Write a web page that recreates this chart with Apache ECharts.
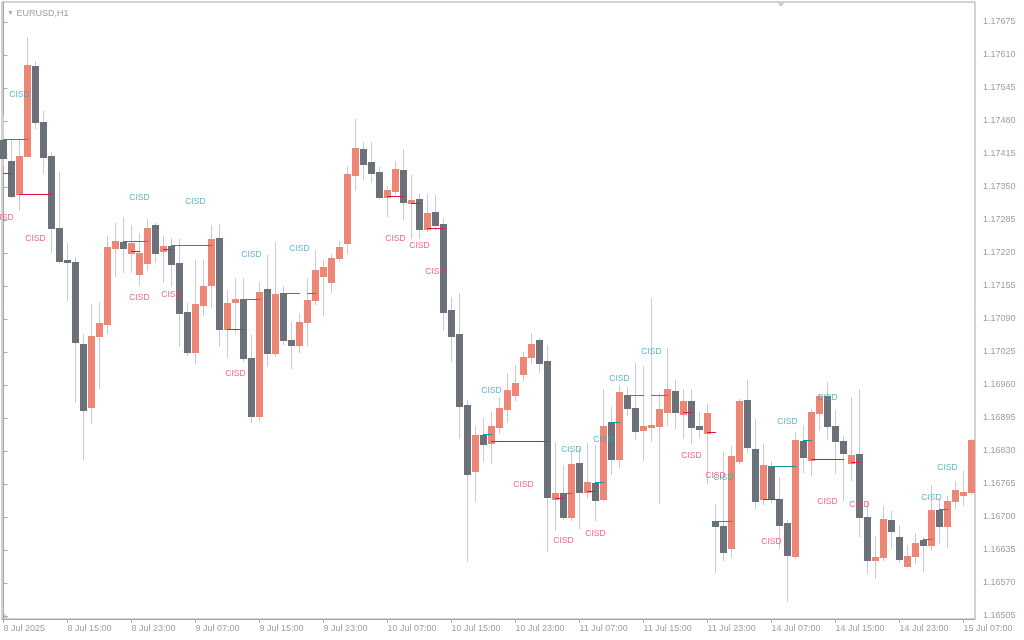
<!DOCTYPE html>
<html><head><meta charset="utf-8">
<script src="https://cdn.jsdelivr.net/npm/echarts@6/dist/echarts.min.js"></script>
<style>html,body{margin:0;padding:0;background:#fff}#c{width:1024px;height:640px}</style>
</head><body><div id="c"></div>
<script>
// EURUSD H1, one bar per hour starting 8 Jul 2025 07:00 (index = bar number)
const opens = [1.17443,1.17401,1.17336,1.17411,1.17588,1.17478,1.17411,1.17269,1.17206,1.17202,
1.17041,1.16917,1.17057,1.17080,1.17230,1.17242,1.17220,1.17179,1.17200,1.17275,
1.17224,1.17234,1.17200,1.17104,1.17025,1.17118,1.17157,1.17250,1.17070,1.17123,
1.17129,1.17013,1.16899,1.17149,1.17023,1.17141,1.17049,1.17039,1.17084,1.17127,
1.17175,1.17163,1.17210,1.17240,1.17374,1.17425,1.17399,1.17380,1.17330,1.17342,
1.17383,1.17318,1.17326,1.17267,1.17301,1.17277,1.17108,1.17060,1.16921,1.16791,
1.16862,1.16846,1.16877,1.16913,1.16940,1.16982,1.17015,1.17049,1.17007,1.16735,
1.16747,1.16700,1.16806,1.16749,1.16767,1.16735,1.16887,1.16814,1.16940,1.16915,
1.16871,1.16877,1.16879,1.16907,1.16948,1.16903,1.16928,1.16879,1.16865,1.16692,
1.16682,1.16639,1.16810,1.16930,1.16834,1.16735,1.16800,1.16735,1.16688,1.16623,
1.16850,1.16812,1.16905,1.16938,1.16879,1.16850,1.16806,1.16824,1.16700,1.16615,
1.16621,1.16694,1.16661,1.16603,1.16623,1.16655,1.16645,1.16714,1.16682,1.16732,
1.16743,1.16749];
const closes = [1.17407,1.17332,1.17411,1.17590,1.17478,1.17409,1.17269,1.17204,1.17202,1.17045,
1.16911,1.17057,1.17082,1.17232,1.17244,1.17230,1.17240,1.17220,1.17269,1.17220,
1.17234,1.17198,1.17102,1.17025,1.17120,1.17155,1.17248,1.17070,1.17122,1.17129,
1.17013,1.16899,1.17143,1.17023,1.17139,1.17049,1.17039,1.17084,1.17127,1.17187,
1.17192,1.17210,1.17232,1.17376,1.17427,1.17395,1.17378,1.17330,1.17344,1.17385,
1.17320,1.17324,1.17267,1.17299,1.17275,1.17104,1.17057,1.16919,1.16785,1.16862,
1.16844,1.16879,1.16915,1.16950,1.16964,1.17015,1.17041,1.17003,1.16739,1.16747,
1.16700,1.16804,1.16749,1.16769,1.16733,1.16879,1.16814,1.16946,1.16915,1.16869,
1.16879,1.16881,1.16913,1.16952,1.16907,1.16928,1.16877,1.16873,1.16905,1.16682,
1.16631,1.16820,1.16928,1.16838,1.16732,1.16802,1.16735,1.16684,1.16625,1.16852,
1.16818,1.16907,1.16938,1.16879,1.16850,1.16826,1.16822,1.16700,1.16615,1.16621,
1.16696,1.16672,1.16617,1.16623,1.16649,1.16645,1.16714,1.16682,1.16732,1.16753,
1.16749,1.16852];
const highs = [1.17492,1.17443,1.17443,1.17645,1.17598,1.17500,1.17419,1.17380,1.17240,1.17212,
1.17060,1.17120,1.17123,1.17253,1.17279,1.17291,1.17275,1.17259,1.17287,1.17279,
1.17253,1.17250,1.17248,1.17122,1.17206,1.17206,1.17275,1.17277,1.17147,1.17171,
1.17171,1.17058,1.17163,1.17216,1.17242,1.17155,1.17084,1.17102,1.17171,1.17226,
1.17206,1.17218,1.17244,1.17391,1.17484,1.17439,1.17439,1.17389,1.17352,1.17401,
1.17425,1.17374,1.17336,1.17336,1.17334,1.17289,1.17133,1.17141,1.16930,1.16879,
1.16895,1.16907,1.16936,1.16984,1.16999,1.17025,1.17062,1.17053,1.17039,1.16848,
1.16802,1.16832,1.16836,1.16846,1.16842,1.16952,1.16917,1.16960,1.16956,1.17003,
1.16997,1.17131,1.16944,1.17033,1.16970,1.16952,1.16952,1.16907,1.16923,1.16726,
1.16828,1.16840,1.16932,1.16970,1.16893,1.16844,1.16810,1.16779,1.16694,1.16867,
1.16881,1.16913,1.16942,1.16966,1.16911,1.16860,1.16936,1.16952,1.16730,1.16663,
1.16722,1.16712,1.16684,1.16645,1.16668,1.16661,1.16763,1.16737,1.16741,1.16771,
1.16791,1.16854];
const lows = [1.17393,1.17330,1.17305,1.17411,1.17466,1.17378,1.17222,1.17200,1.17127,1.16927,
1.16814,1.16885,1.16954,1.17062,1.17175,1.17183,1.17183,1.17157,1.17187,1.17202,
1.17163,1.17155,1.17037,1.17019,1.17003,1.17098,1.17114,1.17037,1.17015,1.17062,
1.17007,1.16887,1.16891,1.16997,1.17017,1.17041,1.16993,1.17025,1.17039,1.17120,
1.17098,1.17143,1.17204,1.17220,1.17344,1.17366,1.17360,1.17328,1.17293,1.17336,
1.17287,1.17250,1.17250,1.17263,1.17265,1.17068,1.17007,1.16856,1.16613,1.16732,
1.16810,1.16806,1.16865,1.16887,1.16930,1.16970,1.17003,1.16986,1.16633,1.16674,
1.16696,1.16694,1.16678,1.16737,1.16694,1.16733,1.16785,1.16798,1.16901,1.16854,
1.16812,1.16850,1.16728,1.16881,1.16875,1.16856,1.16846,1.16858,1.16767,1.16592,
1.16615,1.16621,1.16806,1.16828,1.16718,1.16726,1.16730,1.16639,1.16535,1.16619,
1.16789,1.16783,1.16871,1.16854,1.16787,1.16733,1.16773,1.16663,1.16590,1.16580,
1.16615,1.16639,1.16611,1.16603,1.16609,1.16594,1.16635,1.16649,1.16641,1.16718,
1.16724,1.16745];

// time-axis tick labels (bar index / label)
const xTickIdx = [0,8,16,24,32,40,48,56,64,72,80,88,96,104,112,120];
const xTickLabels = ["8 Jul 2025","8 Jul 15:00","8 Jul 23:00","9 Jul 07:00","9 Jul 15:00","9 Jul 23:00",
"10 Jul 07:00","10 Jul 15:00","10 Jul 23:00","11 Jul 07:00","11 Jul 15:00","11 Jul 23:00",
"14 Jul 07:00","14 Jul 15:00","14 Jul 23:00","15 Jul 07:00"];
const yTicks = [1.16505,1.16570,1.16635,1.16700,1.16765,1.16830,1.16895,1.16960,1.17025,1.17090,
1.17155,1.17220,1.17285,1.17350,1.17415,1.17480,1.17545,1.17610,1.17675];

// CISD levels: [from bar, to bar, price]
const bullLevels = [[0,3,1.17443],[15,18,1.17242],[21,26,1.17234],[30,32,1.17129],[35,37,1.17141],[38,39,1.17141],
[60,61,1.16862],[70,71,1.16747],[74,75,1.16767],[76,77,1.16887],[78,80,1.16940],[81,83,1.16940],
[89,91,1.16692],[96,99,1.16800],[100,101,1.16850],[115,116,1.16655],[117,118,1.16714]];
const bearLevels = [[0,1,1.17376],[2,6,1.17336],[16,17,1.17222],[20,21,1.17226],[28,30,1.17070],[48,50,1.17332],
[51,52,1.17318],[53,55,1.17269],[61,68,1.16848],[69,70,1.16737],[73,74,1.16751],[85,86,1.16905],
[88,89,1.16867],[95,97,1.16735],[101,105,1.16814],[106,107,1.16808]];
// CISD text labels: [bar, price]
const bullLabels = [[2,1.17531],[17,1.17330],[24,1.17322],[31,1.17216],[37,1.17228],[61,1.16948],[71,1.16832],
[77,1.16972],[81,1.17025],[75,1.16852],[90,1.16777],[98,1.16887],[103,1.16936],[116,1.16739],[118,1.16798]];
const bearLabels = [[0,1.17289],[4,1.17248],[17,1.17133],[21,1.17137],[29,1.16982],[49,1.17248],[52,1.17234],
[54,1.17183],[65,1.16763],[70,1.16653],[74,1.16667],[86,1.16820],[89,1.16781],[96,1.16651],[103,1.16730],[107,1.16724]];

const BULL = '#ee8676', BEAR = '#6b7079', WICK = '#c9cad3';
const TEAL = '#0a9a9a', CRIMSON = '#e0143c';
const TXT = '#9d9dab', FRAME = '#a6a6a6';

const candleData = opens.map((o, i) => [i, o, closes[i], lows[i], highs[i]]);

function renderCandle(params, api) {
  const x = api.value(0), o = api.value(1), c = api.value(2), l = api.value(3), h = api.value(4);
  const pO = api.coord([x, o]), pC = api.coord([x, c]), pL = api.coord([x, l]), pH = api.coord([x, h]);
  const xc = pO[0];
  const top = Math.round(Math.min(pO[1], pC[1]));
  const bot = Math.round(Math.max(pO[1], pC[1]));
  const wx = Math.floor(xc) + 0.5;
  return {
    type: 'group',
    children: [
      { type: 'line', shape: { x1: wx, y1: Math.round(pH[1]), x2: wx, y2: Math.round(pL[1]) + 1 },
        style: { stroke: WICK, lineWidth: 1 } },
      { type: 'rect', shape: { x: Math.round(xc - 3.5), y: top, width: 7, height: Math.max(1, bot - top + 1) },
        style: { fill: c >= o ? BULL : BEAR } }
    ]
  };
}
function levelRenderer(color) {
  return function (params, api) {
    const p1 = api.coord([api.value(0), api.value(2)]);
    const p2 = api.coord([api.value(1), api.value(2)]);
    const y = Math.floor(p1[1]);
    return { type: 'rect', shape: { x: Math.floor(p1[0]), y: y, width: Math.floor(p2[0]) - Math.floor(p1[0]) + 1, height: 1 },
      style: { fill: color } };
  };
}
function labelSeries(data, color) {
  return {
    type: 'scatter', data: data, symbolSize: 1, itemStyle: { color: 'rgba(0,0,0,0)' }, silent: true, z: 5,
    label: { show: true, position: 'inside', formatter: 'CISD', color: color,
      fontFamily: 'Liberation Sans, Arial, sans-serif', fontSize: 8.5 }
  };
}

const chart = echarts.init(document.getElementById('c'), null, { renderer: 'canvas' });
chart.setOption({
  animation: false,
  backgroundColor: '#ffffff',
  title: {
    text: '{t|▼} EURUSD,H1', left: 2, top: 4,
    textStyle: { color: TXT, fontFamily: 'Liberation Sans, Arial, sans-serif', fontSize: 9, fontWeight: 'normal',
      rich: { t: { fontSize: 7, color: '#a9a9b4' } } }
  },
  grid: { left: 2, right: 49, top: 2, bottom: 21, show: true, borderColor: FRAME, borderWidth: 1, backgroundColor: '#fff' },
  xAxis: {
    type: 'value', min: -0.1875, max: 121.4375,
    splitLine: { show: false },
    axisLine: { lineStyle: { color: FRAME } },
    axisTick: { customValues: xTickIdx, length: 4, lineStyle: { color: FRAME } },
    axisLabel: { customValues: xTickIdx, align: 'left', margin: 5, color: TXT,
      fontFamily: 'Liberation Sans, Arial, sans-serif', fontSize: 9,
      formatter: v => { const k = xTickIdx.indexOf(Math.round(v)); return k >= 0 ? xTickLabels[k] : ''; } }
  },
  yAxis: {
    type: 'value', position: 'right', min: 1.164991, max: 1.177144, scale: true,
    splitLine: { show: false },
    axisLine: { show: true, lineStyle: { color: FRAME } },
    axisTick: { show: true, customValues: yTicks, length: 4, lineStyle: { color: FRAME } },
    axisLabel: { customValues: yTicks, margin: 8, color: TXT,
      fontFamily: 'Liberation Sans, Arial, sans-serif', fontSize: 9,
      formatter: v => v.toFixed(5) }
  },
  graphic: [
    { type: 'polygon', shape: { points: [[777, 2], [785, 2], [781, 7]] }, style: { fill: '#c9cad6' } },
    { type: 'polygon', shape: { points: [[3, 612], [3, 618], [9, 618]] }, style: { fill: '#d4d4dc' } }
  ],
  series: [
    { type: 'custom', name: 'EURUSD', data: candleData, encode: { x: 0, y: [1, 2, 3, 4] }, renderItem: renderCandle, z: 2 },
    { type: 'custom', name: 'bullLevels', data: bullLevels, encode: { x: [0, 1], y: 2 }, renderItem: levelRenderer(TEAL), z: 3 },
    { type: 'custom', name: 'bearLevels', data: bearLevels, encode: { x: [0, 1], y: 2 }, renderItem: levelRenderer(CRIMSON), z: 3 },
    labelSeries(bullLabels, '#2fa9ba'),
    labelSeries(bearLabels, '#ef3f6c')
  ]
});
</script>
</body></html>
